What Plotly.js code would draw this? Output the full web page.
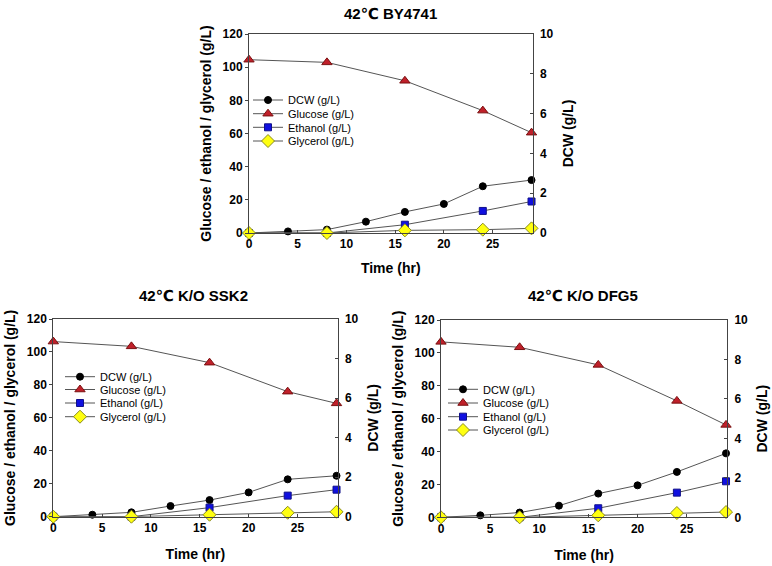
<!DOCTYPE html>
<html>
<head>
<meta charset="utf-8">
<script src="https://cdn.plot.ly/plotly-3.0.1.min.js"></script>
<style>html,body{margin:0;padding:0;background:#fff;}#chart{width:772px;height:566px;}</style>
</head>
<body>
<div id="chart"></div>
<script>
// ---- data ----
const panelTitles = ["42\u2103 BY4741", "42\u2103 K/O SSK2", "42\u2103 K/O DFG5"];
const seriesNames = ["DCW (g/L)", "Glucose (g/L)", "Ethanol (g/L)", "Glycerol (g/L)"];
const timeDCW = [0, 4, 8, 12, 16, 20, 24, 29];
const timeOther = [0, 8, 16, 24, 29];

const dcwBY = [0, 0.08, 0.17, 0.57, 1.06, 1.46, 2.35, 2.66];
const glucoseBY = [104.5, 102.9, 91.8, 73.8, 60.5];
const ethanolBY = [0, 0, 5.0, 13.3, 19.0];
const glycerolBY = [0, 0, 1.6, 2.0, 2.8];

const dcwSSK2 = [0, 0.1, 0.22, 0.54, 0.84, 1.23, 1.89, 2.07];
const glucoseSSK2 = [106.3, 103.4, 93.5, 75.9, 68.8];
const ethanolSSK2 = [0, 0, 5.5, 12.8, 16.4];
const glycerolSSK2 = [0, 0, 1.2, 2.4, 3.0];

const dcwDFG5 = [0, 0.1, 0.24, 0.59, 1.2, 1.62, 2.3, 3.24];
const glucoseDFG5 = [106.7, 103.4, 92.7, 70.8, 56.2];
const ethanolDFG5 = [0, 0, 5.5, 15.0, 21.9];
const glycerolDFG5 = [0, 0, 1.2, 2.6, 3.2];

const xTitle = "Time (hr)";
const yLeftTitle = "Glucose / ethanol / glycerol (g/L)";
const yRightTitle = "DCW (g/L)";

// ---- styles ----
const W = 772, H = 566;
const FONT = "Arial, 'Liberation Sans', 'DejaVu Sans', sans-serif";
const lineColor = "#555555";
const markerStyles = [
  {symbol: "circle", size: 7, color: "#000000", line: {color: "#000000", width: 1}},
  {symbol: "triangle-up", size: 9, color: "#c0202a", line: {color: "#7a1010", width: 1}},
  {symbol: "square", size: 7, color: "#1010e0", line: {color: "#10108a", width: 1}},
  {symbol: "diamond", size: 10, color: "#ffff10", line: {color: "#8a8a20", width: 1}}
];

// panel pixel boxes: [left, right, top, bottom]
const boxes = [
  [249, 532.5, 34, 233],
  [53.3, 337.5, 319, 516.7],
  [441, 727, 320, 517.3]
];
const xTitleStandoff = [12, 15, 15];
// legend: text start x, row y centres
const legendPos = [
  {x: 290, rows: [100, 113.7, 127.3, 141]},
  {x: 102, rows: [376.7, 389.5, 403, 416.7]},
  {x: 485, rows: [389.3, 403, 416.7, 430]}
];
const titlePos = [[390, 13], [193, 295], [583, 295]];

const dataSets = [
  [dcwBY, glucoseBY, ethanolBY, glycerolBY],
  [dcwSSK2, glucoseSSK2, ethanolSSK2, glycerolSSK2],
  [dcwDFG5, glucoseDFG5, ethanolDFG5, glycerolDFG5]
];

const px = v => v / W;
const py = v => 1 - v / H;

const traces = [];
const layout = {
  width: W, height: H,
  margin: {l: 0, r: 0, t: 0, b: 0},
  paper_bgcolor: "#ffffff", plot_bgcolor: "rgba(0,0,0,0)",
  font: {family: FONT, color: "#000000", size: 12},
  showlegend: true,
  annotations: []
};

const axisCommon = {
  showgrid: false, zeroline: false, showline: true,
  linecolor: "#444444", linewidth: 1,
  tickcolor: "#444444", ticklen: 3, tickwidth: 1,
  tickfont: {family: FONT, size: 12, color: "#000000", weight: "bold"}
};

for (let p = 0; p < 3; p++) {
  const [l, r, t, b] = boxes[p];
  const xa = p === 0 ? "xaxis" : "xaxis" + (p + 1);
  const xr = p === 0 ? "x" : "x" + (p + 1);
  const yBaseN = 2 * p + 1, yOverN = 2 * p + 2;
  const yBase = yBaseN === 1 ? "yaxis" : "yaxis" + yBaseN;
  const yBaseRef = yBaseN === 1 ? "y" : "y" + yBaseN;
  const yOver = "yaxis" + yOverN;
  const yOverRef = "y" + yOverN;

  layout[xa] = Object.assign({}, axisCommon, {
    domain: [px(l), px(r)], anchor: yBaseRef,
    range: [0, 29.1], dtick: 5, tick0: 0, ticks: "inside", mirror: true,
    title: {text: xTitle, standoff: xTitleStandoff[p], font: {family: FONT, size: 14, weight: "bold"}}
  });
  layout[yBase] = Object.assign({}, axisCommon, {
    domain: [py(b), py(t)], anchor: xr, side: "right",
    range: [0, 10], dtick: 2, tick0: 0, ticks: "inside", ticklabelstandoff: 4,
    title: {text: yRightTitle, standoff: 10, font: {family: FONT, size: 14, weight: "bold"}}
  });
  layout[yOver] = Object.assign({}, axisCommon, {
    overlaying: yBaseRef, anchor: xr, side: "left",
    range: [0, 120], dtick: 20, tick0: 0, ticks: "outside",
    title: {text: yLeftTitle, standoff: 7, font: {family: FONT, size: 14, weight: "bold"}}
  });

  const ds = dataSets[p];
  for (let s = 0; s < 4; s++) {
    const legendName = (p * 4 + s) === 0 ? "legend" : "legend" + (p * 4 + s + 1);
    const isDCW = s === 0;
    traces.push({
      type: "scatter", mode: "lines+markers",
      name: seriesNames[s],
      x: isDCW ? timeDCW : timeOther,
      y: ds[s],
      xaxis: xr, yaxis: isDCW ? yBaseRef : yOverRef,
      line: {color: lineColor, width: 1},
      marker: markerStyles[s],
      cliponaxis: false,
      legend: legendName,
      hoverinfo: "x+y+name"
    });
    layout[legendName] = {
      x: px(legendPos[p].x - 42), y: py(legendPos[p].rows[s]),
      xanchor: "left", yanchor: "middle",
      bgcolor: "rgba(0,0,0,0)", borderwidth: 0,
      font: {family: FONT, size: 11, color: "#000000"},
      itemwidth: 30, tracegroupgap: 0
    };
  }

  layout.annotations.push({
    text: "<b>" + panelTitles[p] + "</b>",
    xref: "paper", yref: "paper",
    x: px(titlePos[p][0]), y: py(titlePos[p][1]),
    xanchor: "center", yanchor: "middle", showarrow: false,
    font: {family: FONT, size: 15, color: "#000000"}
  });
}

Plotly.newPlot("chart", traces, layout, {displayModeBar: false, staticPlot: true});
</script>
</body>
</html>
